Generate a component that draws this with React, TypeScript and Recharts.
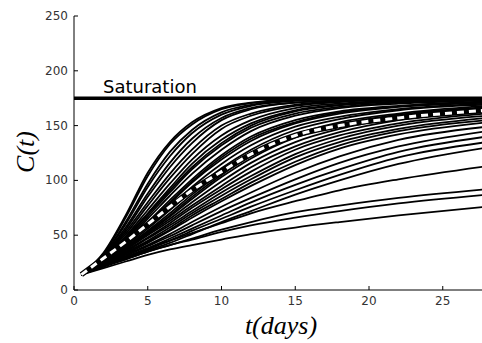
import React from "react";
import { LineChart, Line, XAxis, YAxis, ReferenceLine } from "recharts";

// sample days shared by every curve
const days = [0.5, 2, 3.5, 5, 6.5, 8, 10, 12, 15, 18, 22, 28];

// simulated trajectories, fastest to slowest
const cA = [14, 34, 68, 107, 135, 153, 166, 171, 174, 175, 175, 175];
const cA2 = [14, 33, 66, 104, 133, 151, 165, 170.5, 173.5, 175, 175, 175];
const cB = [14, 32, 62, 97, 126, 146, 162, 169, 173, 174.5, 175, 175];
const cB2 = [14, 32, 60, 94, 122, 143, 160, 168, 172.5, 174, 175, 175];
const cC = [14, 31, 57, 88, 116, 138, 157, 166, 171, 173, 174, 175];
const cC2 = [14, 31, 55, 85, 112, 134, 155, 165, 171, 173, 174.5, 175];
const cD = [14, 30, 53, 80, 106, 128, 150, 161, 169, 172, 174, 175];
const cD2 = [14, 30, 51, 77, 102, 124, 147, 159, 168, 171.5, 173.5, 175];
const cE = [14, 29, 49, 73, 97, 119, 141, 155, 166, 170, 173, 174];
const cE2 = [14, 29, 48, 70, 93, 115, 137, 152, 164, 169, 172, 174];
const cE3 = [14, 29, 47, 69, 91, 112, 134, 150, 163, 168.5, 172, 174];
const cF = [14, 28, 46, 67, 89, 110, 132, 148, 161, 167, 171, 173];
const cF2 = [14, 28, 45, 65, 86, 106, 128, 145, 159, 166, 170, 173];
const cG = [14, 27, 43, 62, 82, 101, 123, 140, 155, 163, 168, 172];
const cG3 = [14, 27, 42, 61, 80, 99, 121, 138, 153, 162, 167.5, 171.5];
const cG2 = [14, 27, 42, 60, 79, 98, 119, 136, 152, 161, 167, 171];
const cH = [14, 27, 41, 58, 76, 94, 115, 132, 149, 158, 165, 170];
const cH2 = [14, 26, 40, 56, 73, 90, 111, 128, 146, 156, 164, 169];
const cI = [14, 26, 39, 54, 70, 87, 107, 124, 142, 153, 161, 168];
const cI3 = [14, 26, 38, 53, 68, 85, 105, 122, 140, 151, 160, 167];
const cI2 = [14, 26, 38, 52, 67, 83, 103, 120, 139, 150, 159, 166];
const cJ = [14, 25, 37, 51, 65, 80, 99, 116, 135, 147, 157, 165];
const cJ2 = [14, 25, 37, 50, 63, 77, 95, 112, 131, 144, 155, 163];
const cK = [14, 25, 36, 48, 61, 75, 92, 108, 128, 141, 152, 161];
const cK2 = [14, 25, 35, 47, 59, 72, 89, 104, 124, 138, 150, 159];
const cL = [14, 24, 34, 45, 57, 70, 86, 101, 121, 135, 147, 157];
const cL2 = [14, 24, 34, 44, 55, 68, 83, 98, 117, 132, 145, 155];
const cM = [14, 24, 33, 43, 54, 66, 81, 95, 114, 129, 142, 153];
const cN = [14, 23, 32, 41, 51, 62, 76, 89, 107, 122, 137, 149];
const cO = [14, 23, 31, 40, 49, 59, 72, 84, 101, 116, 131, 145];
const cP = [14, 23, 30, 38, 47, 56, 68, 80, 96, 110, 126, 140];
const cQ = [14, 22, 29, 37, 45, 54, 65, 76, 91, 105, 121, 135];
const cR = [14, 22, 29, 36, 43, 51, 62, 72, 87, 100, 115, 130];
const cS = [14, 22, 30, 38, 45, 52, 61, 70, 81, 91, 101, 113];
const cT = [14, 22, 28, 35, 41, 47, 55, 62, 71, 77, 84, 92];
const cU = [14, 21, 28, 35, 41, 46, 53, 59, 66, 72, 79, 87];
const cV = [14, 20, 26, 32, 37, 41, 46, 51, 57, 62, 68, 76];

const curves = [cA, cA2, cB, cB2, cC, cC2, cD, cD2, cE, cE2, cE3, cF, cF2, cG, cG3, cG2, cH, cH2,
  cI, cI3, cI2, cJ, cJ2, cK, cK2, cL, cL2, cM, cN, cO, cP, cQ, cR, cS, cT, cU, cV];

// average trajectory (white dashed)
const mean = [14, 29, 44, 60, 76, 91, 108, 124, 141, 150, 157, 164];

const saturation = 175;
const xTicks = [0, 5, 10, 15, 20, 25];
const yTicks = [0, 50, 100, 150, 200, 250];

const rows = days.map((t, i) => {
  const row: any = { t, mean: mean[i] };
  curves.forEach((c, k) => { row["c" + k] = c[i]; });
  return row;
});

const tickFont = { fontFamily: "DejaVu Sans", fontSize: 12, fill: "#333" };

const BottomTick = ({ x, y, payload }: any) => (
  <g>
    <line x1={x} x2={x} y1={y} y2={y - 4} stroke="#000" />
    <text x={x} y={y + 15} textAnchor="middle" {...tickFont}>{payload.value}</text>
  </g>
);
const TopTick = ({ x, y }: any) => <line x1={x} x2={x} y1={y} y2={y + 4} stroke="#000" />;
const LeftTick = ({ x, y, payload }: any) => (
  <g>
    <line x1={x} x2={x + 4} y1={y} y2={y} stroke="#000" />
    <text x={x - 6} y={y + 4} textAnchor="end" {...tickFont}>{payload.value}</text>
  </g>
);
const RightTick = ({ x, y }: any) => <line x1={x} x2={x - 4} y1={y} y2={y} stroke="#000" />;

const SatLabel = ({ viewBox }: any) => (
  <text x={viewBox.x + 29} y={viewBox.y - 5} fontFamily="DejaVu Sans" fontSize={18} fill="#000">
    Saturation
  </text>
);

export default function App() {
  return (
    <div style={{ position: "fixed", left: 0, top: 0, width: 482, height: 343, overflow: "hidden", background: "#fff" }}>
      <LineChart width={488} height={343} data={rows} margin={{ top: 16, right: 1, bottom: 0, left: 0 }}>
        <XAxis dataKey="t" type="number" domain={[0, 28]} ticks={xTicks} interval={0} height={53}
          tickSize={0} tickMargin={0} tick={<BottomTick />} stroke="#000" />
        <XAxis xAxisId="top" dataKey="t" type="number" orientation="top" domain={[0, 28]} ticks={xTicks}
          interval={0} height={0} tickSize={0} tickMargin={0} tick={<TopTick />} stroke="#000" />
        <YAxis type="number" domain={[0, 250]} ticks={yTicks} interval={0} width={74}
          tickSize={0} tickMargin={0} tick={<LeftTick />} stroke="#000" />
        <YAxis yAxisId="right" orientation="right" type="number" domain={[0, 250]} ticks={yTicks} interval={0}
          width={0} tickSize={0} tickMargin={0} tick={<RightTick />} stroke="#000" />
        {curves.map((_, k) => (
          <Line key={k} type="monotone" dataKey={"c" + k} stroke="#000" strokeWidth={1.8}
            dot={false} isAnimationActive={false} />
        ))}
        <ReferenceLine y={saturation} stroke="#000" strokeWidth={3.5} label={<SatLabel />} />
        <Line type="monotone" dataKey="mean" stroke="#000" strokeWidth={5.5}
          dot={false} isAnimationActive={false} />
        <Line type="monotone" dataKey="mean" stroke="#fff" strokeWidth={3} strokeDasharray="7 5"
          dot={false} isAnimationActive={false} />
      </LineChart>
      <div style={{ position: "absolute", left: 26, top: 152, transform: "translate(-50%, -50%) rotate(-90deg)",
        fontFamily: "Liberation Serif", fontStyle: "italic", fontSize: 26, whiteSpace: "nowrap" }}>
        C(t)
      </div>
      <div style={{ position: "absolute", left: 281, top: 326, transform: "translate(-50%, -50%)",
        fontFamily: "Liberation Serif", fontStyle: "italic", fontSize: 26, whiteSpace: "nowrap" }}>
        t(days)
      </div>
    </div>
  );
}
